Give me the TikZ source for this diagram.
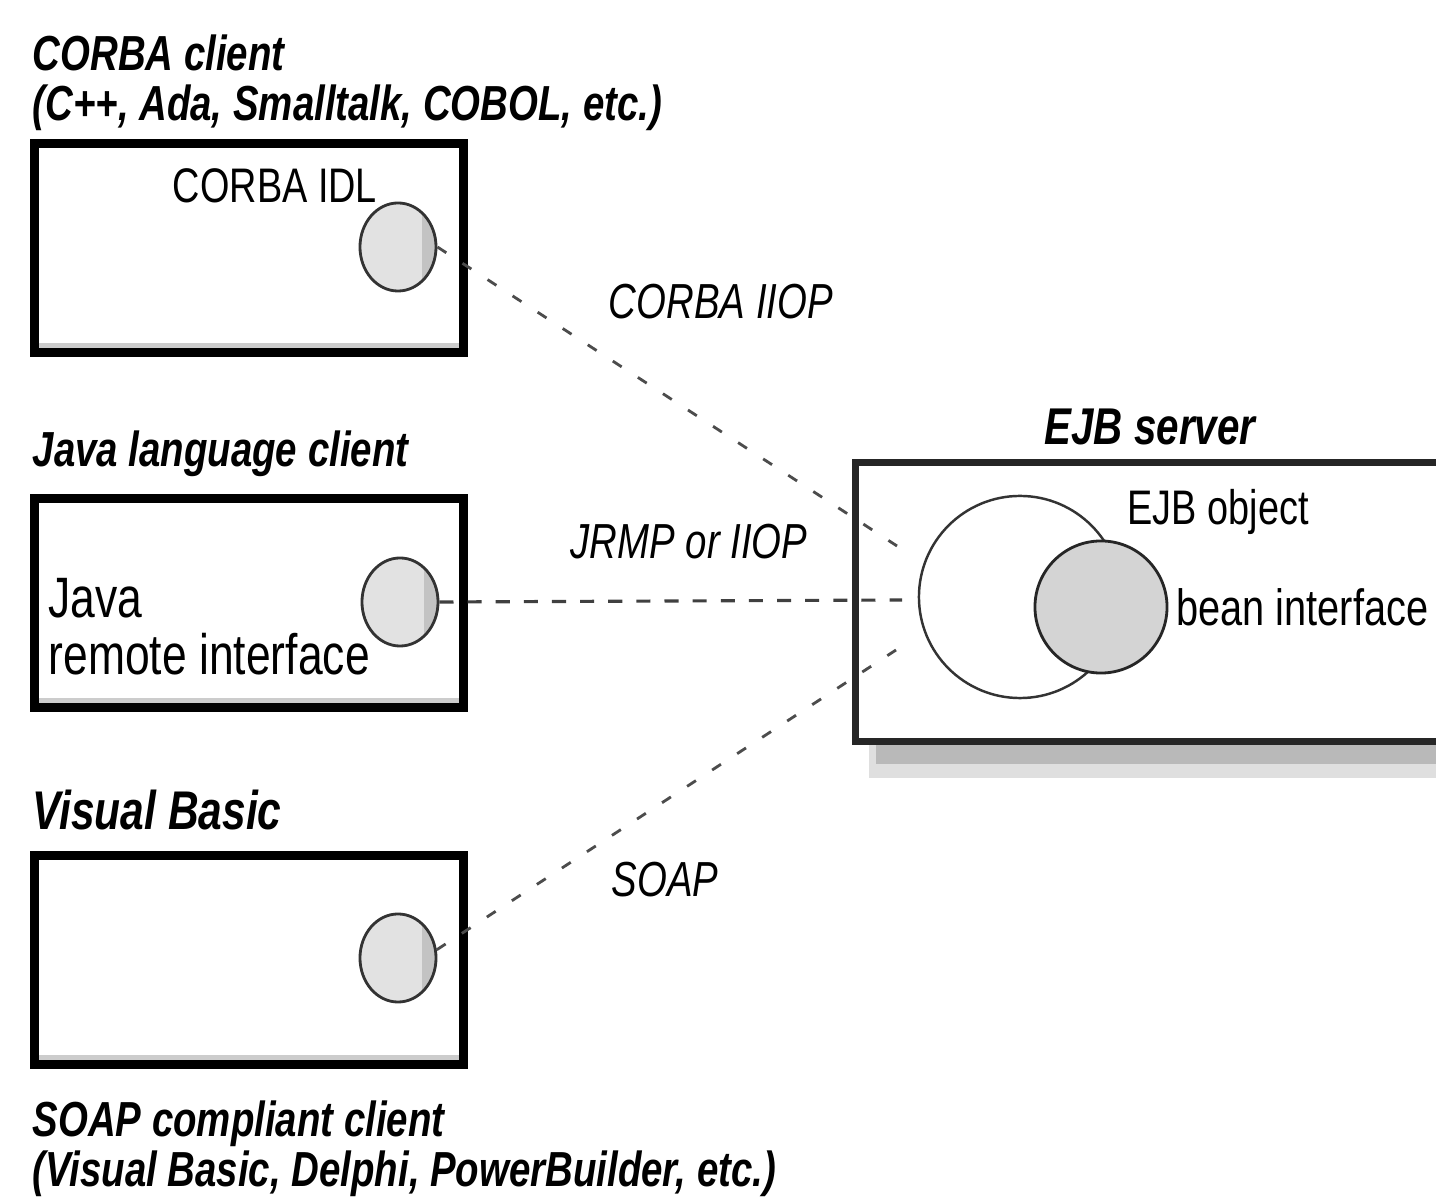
\documentclass[tikz,border=0pt]{standalone}
\usepackage{fontspec}
\setmainfont{Liberation Sans}[FakeStretch=0.78]
\usetikzlibrary{positioning, shapes.geometric}
\definecolor{stubColor}{RGB}{226,226,226}
\definecolor{stubShade}{RGB}{195,195,195}
\definecolor{beanColor}{RGB}{212,212,212}
\tikzset{client/.style={draw, line width=2.6pt, minimum width=4.29cm, minimum height=2.09cm, inner sep=0pt}}
\tikzset{server/.style={draw=black!85, line width=2pt, fill=white, minimum width=6.25cm, minimum height=2.78cm, inner sep=0pt}}
\tikzset{stub/.style={ellipse, draw=black!80, line width=.8pt, fill=stubColor, minimum width=.76cm, minimum height=.88cm, inner sep=0pt,
	path picture={\fill[stubShade] ([xshift=-4pt]path picture bounding box.north east) rectangle (path picture bounding box.south east);}}}
\tikzset{title/.style={font=\fontsize{14}{14.2}\selectfont\bfseries\itshape, align=left, inner sep=0pt}}
\tikzset{txt/.style={font=\fontsize{14.5}{16.2}\selectfont, align=left, inner sep=0pt}}
\tikzset{proto/.style={font=\fontsize{14}{16}\selectfont\itshape, inner sep=0pt}}
\tikzset{link/.style={black!70, line width=.8pt, dash pattern=on 3pt off 5.5pt}}
\tikzset{rmilink/.style={black!75, line width=.9pt, dash pattern=on 4pt off 4pt}}

\begin{document}
\begin{tikzpicture}[x=0.01cm, y=-0.01cm]
	\pgfdeclarelayer{background}
	\pgfsetlayers{background,main}
	\useasboundingbox (0,0) rectangle (1436,1198);

	% Nodes
	\node (corba) [client] at (249,248) {};
	\node (java) [client] at (249,603) {};
	\node (vb) [client] at (249,960) {};
	\node (ejb) [server] at (1168,602) {};

	\draw [gray!40, line width=1.5pt] ([xshift=2.6pt, yshift=3.4pt]corba.south west) -- ([xshift=-2.6pt, yshift=3.4pt]corba.south east);
	\draw [gray!40, line width=1.5pt] ([xshift=2.6pt, yshift=3.4pt]java.south west) -- ([xshift=-2.6pt, yshift=3.4pt]java.south east);
	\draw [gray!40, line width=1.5pt] ([xshift=2.6pt, yshift=3.4pt]vb.south west) -- ([xshift=-2.6pt, yshift=3.4pt]vb.south east);

	\node (idlStub) [stub] at (398,247) {};
	\node (javaStub) [stub] at (400,602) {};
	\node (soapStub) [stub] at (398,958) {};

	\node (ejbObj) [circle, draw=black!80, line width=.7pt, minimum size=2.02cm] at (1020,597) {};
	\node (bean) [circle, draw=black!85, line width=.8pt, fill=beanColor, minimum size=1.32cm] at (1101,607) {};

	\begin{pgfonlayer}{background}
		\fill [gray!25] ([xshift=5pt]ejb.north west) rectangle ([xshift=20pt, yshift=-9.5pt]ejb.south east);
		\fill [gray!55] ([xshift=7pt]ejb.north west) rectangle ([xshift=20pt, yshift=-5.5pt]ejb.south east);
	\end{pgfonlayer}

	% Labels
	\node (corbaLbl) [title, anchor=north west] at (32,34) {CORBA client\\(C++, Ada, Smalltalk, COBOL, etc.)};
	\node (javaLbl) [title, anchor=base west] at (32,467) {Java language client};
	\node (vbLbl) [title, font=\fontsize{15.5}{16}\selectfont\bfseries\itshape, anchor=base west] at (32,830) {Visual Basic};
	\node (soapLbl) [title, anchor=north west] at (32,1100) {SOAP compliant client\\(Visual Basic, Delphi, PowerBuilder, etc.)};
	\node (ejbLbl) [title, font=\fontsize{14.7}{16}\selectfont\bfseries\itshape, anchor=base] at (1150,445) {EJB server};

	\node (idlLbl) [txt, font=\fontsize{13.8}{16}\selectfont] at (275,186) {CORBA IDL};
	\node (javaTxt) [txt, font=\fontsize{16.2}{16.2}\selectfont, anchor=north west] at (48,578) {Java\\remote interface};
	\node (objLbl) [txt, font=\fontsize{13.8}{16}\selectfont, anchor=west] at (1127,512) {EJB object};
	\node (beanLbl) [txt, right=2pt of bean] {bean interface};

	\node (iiopLbl) [proto] at (721,302) {CORBA IIOP};
	\node (jrmpLbl) [proto] at (689,542) {JRMP or IIOP};
	\node (soapProto) [proto] at (665,880) {SOAP};

	% Connectors
	\coordinate (corbaEnd) at (897,546);
	\coordinate (javaEnd) at (902,600);
	\coordinate (soapEnd) at (896,650);
	\draw [link] (idlStub.east) -- (corbaEnd);
	\draw [rmilink] (javaStub.east) -- (javaEnd);
	\draw [link] (soapStub.12) -- (soapEnd);
\end{tikzpicture}
\end{document}
